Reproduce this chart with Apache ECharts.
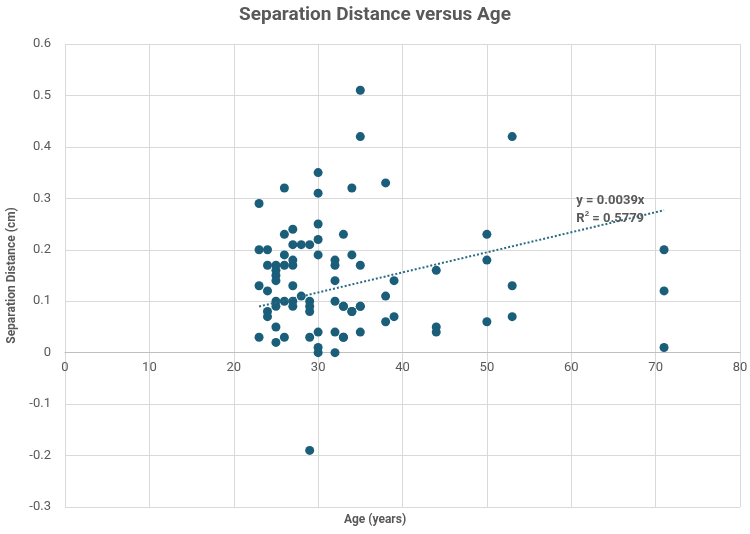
<!DOCTYPE html>
<html>
<head>
<meta charset="utf-8">
<script src="https://cdn.jsdelivr.net/npm/echarts@6/dist/echarts.min.js"></script>
<style>
  html, body { margin: 0; padding: 0; background: #fff; }
  #chart { width: 750px; height: 534px; }
</style>
</head>
<body>
<div id="chart"></div>
<script>
// Age (years) and separation distance (cm)
const ages = [
  30, 26, 30, 34, 23, 30, 27, 26, 33, 30, 27, 28, 29, 23, 24, 30, 26, 27, 27,
  24, 25, 26, 25, 25, 25, 32, 32, 34, 35, 32, 23, 24, 27, 28, 25, 26, 27, 25, 27,
  29, 29, 29, 24, 24, 32, 33, 34, 35, 25, 23, 25, 26, 29, 30, 30, 30, 32, 33, 35, 32,
  35, 35, 53, 38, 50, 50, 44, 39, 53, 38, 33, 34, 35, 39, 38, 44, 44, 50, 53, 33,
  71, 71, 71, 29
];
const distances = [
  0.35, 0.32, 0.31, 0.32, 0.29, 0.25, 0.24, 0.23, 0.23, 0.22, 0.21, 0.21, 0.21, 0.20, 0.20, 0.19, 0.19, 0.18, 0.17,
  0.17, 0.17, 0.17, 0.16, 0.15, 0.14, 0.18, 0.17, 0.19, 0.17, 0.14, 0.13, 0.12, 0.13, 0.11, 0.10, 0.10, 0.10, 0.09, 0.09,
  0.10, 0.09, 0.08, 0.08, 0.07, 0.10, 0.09, 0.08, 0.09, 0.05, 0.03, 0.02, 0.03, 0.03, 0.04, 0.01, 0.00, 0.04, 0.03, 0.04, 0.00,
  0.51, 0.42, 0.42, 0.33, 0.23, 0.18, 0.16, 0.14, 0.13, 0.11, 0.09, 0.08, 0.09, 0.07, 0.06, 0.05, 0.04, 0.06, 0.07, 0.03,
  0.20, 0.12, 0.01, -0.19
];
// Linear trendline through the origin, as printed on the chart
const trendSlope = 0.0039;
const trendR2 = 0.5779;
const trendRange = [23, 71];

const yMin = -0.3, yMax = 0.6;
const gridTop = 44, gridBottom = 27;
const plotHeight = 534 - gridTop - gridBottom;
// x axis sits at y = 0, so lift it off the bottom of the grid
const xAxisLift = plotHeight * (0 - yMin) / (yMax - yMin);

const points = ages.map((a, i) => [a, distances[i]]);
const trendPoints = trendRange.map(x => [x, trendSlope * x]);

const chart = echarts.init(document.getElementById('chart'));
const grey = '#595959';

chart.setOption({
  animation: false,
  textStyle: { fontFamily: 'Roboto, "Noto Sans", sans-serif' },
  title: {
    text: 'Separation Distance versus Age',
    left: 'center',
    top: 1,
    textStyle: { fontSize: 19, fontWeight: 'bold', color: grey }
  },
  grid: { left: 65, right: 10, top: gridTop, bottom: gridBottom, outerBoundsMode: 'none' },
  xAxis: {
    type: 'value',
    min: 0, max: 80, interval: 10,
    offset: -xAxisLift,
    axisLine: { onZero: false, lineStyle: { color: '#bfbfbf' } },
    axisTick: { show: false },
    axisLabel: { color: grey, fontSize: 13, margin: 9 },
    splitLine: { lineStyle: { color: '#d9d9d9' } }
  },
  yAxis: {
    type: 'value',
    min: yMin, max: yMax, interval: 0.1,
    name: 'Separation Distance (cm)',
    nameLocation: 'middle',
    nameGap: 47,
    nameTextStyle: { color: grey, fontSize: 12, fontWeight: 'bold' },
    axisLine: { show: false },
    axisTick: { show: false },
    axisLabel: {
      color: grey, fontSize: 13, margin: 14,
      formatter: v => String(Math.round(v * 10) / 10)
    },
    splitLine: { lineStyle: { color: '#d9d9d9' } }
  },
  series: [
    {
      type: 'scatter',
      data: points,
      symbolSize: 9,
      itemStyle: { color: '#1a5e7a', opacity: 1 }
    },
    {
      type: 'line',
      data: trendPoints,
      symbol: 'none',
      lineStyle: { color: '#2a6a85', width: 2, type: [2, 2] },
      z: 3
    }
  ]
});

// trendline label and x axis name
const labelPos = chart.convertToPixel({ gridIndex: 0 }, [60.6, 0.313]);
chart.setOption({
  graphic: [
    {
      type: 'text',
      left: 'center',
      top: 514,
      style: { text: 'Age (years)', fill: grey, font: 'bold 12px Roboto, sans-serif' }
    },
    {
      type: 'text',
      x: labelPos[0],
      y: labelPos[1],
      z: 10,
      style: {
        text: 'y = ' + trendSlope + 'x\nR{sup|2} = ' + trendR2,
        fill: grey,
        font: 'bold 13px Roboto, sans-serif',
        lineHeight: 18,
        rich: { sup: { fontSize: 8, fill: grey, fontWeight: 'bold', verticalAlign: 'top', padding: [0, 0, 7, 0] } }
      }
    }
  ]
});
</script>
</body>
</html>
